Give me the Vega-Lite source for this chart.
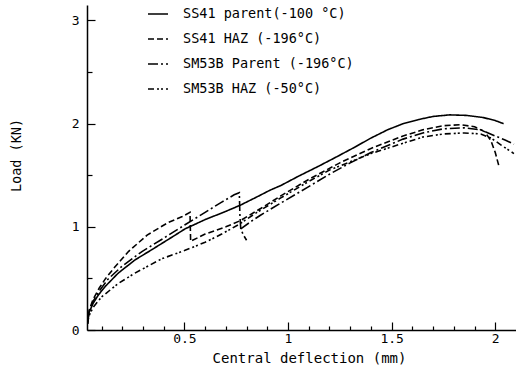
{
  "$schema": "https://vega.github.io/schema/vega-lite/v6.json",
  "width": 429,
  "height": 325,
  "autosize": {"type": "none"},
  "padding": {"left": 87, "top": 5, "right": 0, "bottom": 39},
  "background": "white",
  "config": {"view": {"stroke": null}, "font": "DejaVu Sans Mono"},
  "data": {"values": [
    {"series": "SS41 parent(-100 °C)", "seg": "A1", "i": 1, "x": 0.032, "y": 0.06},
    {"series": "SS41 parent(-100 °C)", "seg": "A1", "i": 2, "x": 0.04, "y": 0.17},
    {"series": "SS41 parent(-100 °C)", "seg": "A1", "i": 3, "x": 0.06, "y": 0.26},
    {"series": "SS41 parent(-100 °C)", "seg": "A1", "i": 4, "x": 0.085, "y": 0.34},
    {"series": "SS41 parent(-100 °C)", "seg": "A1", "i": 5, "x": 0.117, "y": 0.42},
    {"series": "SS41 parent(-100 °C)", "seg": "A1", "i": 6, "x": 0.18, "y": 0.55},
    {"series": "SS41 parent(-100 °C)", "seg": "A1", "i": 7, "x": 0.262, "y": 0.68},
    {"series": "SS41 parent(-100 °C)", "seg": "A1", "i": 8, "x": 0.344, "y": 0.78},
    {"series": "SS41 parent(-100 °C)", "seg": "A1", "i": 9, "x": 0.44, "y": 0.90},
    {"series": "SS41 parent(-100 °C)", "seg": "A1", "i": 10, "x": 0.503, "y": 0.98},
    {"series": "SS41 parent(-100 °C)", "seg": "A1", "i": 11, "x": 0.60, "y": 1.07},
    {"series": "SS41 parent(-100 °C)", "seg": "A1", "i": 12, "x": 0.70, "y": 1.15},
    {"series": "SS41 parent(-100 °C)", "seg": "A1", "i": 13, "x": 0.77, "y": 1.21},
    {"series": "SS41 parent(-100 °C)", "seg": "A1", "i": 14, "x": 0.85, "y": 1.29},
    {"series": "SS41 parent(-100 °C)", "seg": "A1", "i": 15, "x": 0.913, "y": 1.355},
    {"series": "SS41 parent(-100 °C)", "seg": "A1", "i": 16, "x": 0.965, "y": 1.40},
    {"series": "SS41 parent(-100 °C)", "seg": "A1", "i": 17, "x": 1.05, "y": 1.49},
    {"series": "SS41 parent(-100 °C)", "seg": "A1", "i": 18, "x": 1.15, "y": 1.59},
    {"series": "SS41 parent(-100 °C)", "seg": "A1", "i": 19, "x": 1.236, "y": 1.68},
    {"series": "SS41 parent(-100 °C)", "seg": "A1", "i": 20, "x": 1.32, "y": 1.77},
    {"series": "SS41 parent(-100 °C)", "seg": "A1", "i": 21, "x": 1.40, "y": 1.86},
    {"series": "SS41 parent(-100 °C)", "seg": "A1", "i": 22, "x": 1.48, "y": 1.94},
    {"series": "SS41 parent(-100 °C)", "seg": "A1", "i": 23, "x": 1.555, "y": 2.00},
    {"series": "SS41 parent(-100 °C)", "seg": "A1", "i": 24, "x": 1.63, "y": 2.04},
    {"series": "SS41 parent(-100 °C)", "seg": "A1", "i": 25, "x": 1.70, "y": 2.07},
    {"series": "SS41 parent(-100 °C)", "seg": "A1", "i": 26, "x": 1.78, "y": 2.085},
    {"series": "SS41 parent(-100 °C)", "seg": "A1", "i": 27, "x": 1.86, "y": 2.08},
    {"series": "SS41 parent(-100 °C)", "seg": "A1", "i": 28, "x": 1.94, "y": 2.06},
    {"series": "SS41 parent(-100 °C)", "seg": "A1", "i": 29, "x": 2.0, "y": 2.03},
    {"series": "SS41 parent(-100 °C)", "seg": "A1", "i": 30, "x": 2.04, "y": 2.0},

    {"series": "SS41 HAZ (-196°C)", "seg": "D1", "i": 1, "x": 0.032, "y": 0.06},
    {"series": "SS41 HAZ (-196°C)", "seg": "D1", "i": 2, "x": 0.04, "y": 0.19},
    {"series": "SS41 HAZ (-196°C)", "seg": "D1", "i": 3, "x": 0.06, "y": 0.30},
    {"series": "SS41 HAZ (-196°C)", "seg": "D1", "i": 4, "x": 0.09, "y": 0.41},
    {"series": "SS41 HAZ (-196°C)", "seg": "D1", "i": 5, "x": 0.12, "y": 0.50},
    {"series": "SS41 HAZ (-196°C)", "seg": "D1", "i": 6, "x": 0.16, "y": 0.60},
    {"series": "SS41 HAZ (-196°C)", "seg": "D1", "i": 7, "x": 0.23, "y": 0.76},
    {"series": "SS41 HAZ (-196°C)", "seg": "D1", "i": 8, "x": 0.32, "y": 0.92},
    {"series": "SS41 HAZ (-196°C)", "seg": "D1", "i": 9, "x": 0.42, "y": 1.04},
    {"series": "SS41 HAZ (-196°C)", "seg": "D1", "i": 10, "x": 0.49, "y": 1.10},
    {"series": "SS41 HAZ (-196°C)", "seg": "D1", "i": 11, "x": 0.527, "y": 1.14},
    {"series": "SS41 HAZ (-196°C)", "seg": "D1", "i": 12, "x": 0.53, "y": 0.86},
    {"series": "SS41 HAZ (-196°C)", "seg": "D1", "i": 13, "x": 0.60, "y": 0.93},
    {"series": "SS41 HAZ (-196°C)", "seg": "D1", "i": 14, "x": 0.70, "y": 1.0},
    {"series": "SS41 HAZ (-196°C)", "seg": "D1", "i": 15, "x": 0.77, "y": 1.06},
    {"series": "SS41 HAZ (-196°C)", "seg": "D1", "i": 16, "x": 0.87, "y": 1.18},
    {"series": "SS41 HAZ (-196°C)", "seg": "D1", "i": 17, "x": 0.965, "y": 1.30},
    {"series": "SS41 HAZ (-196°C)", "seg": "D1", "i": 18, "x": 1.1, "y": 1.46},
    {"series": "SS41 HAZ (-196°C)", "seg": "D1", "i": 19, "x": 1.25, "y": 1.62},
    {"series": "SS41 HAZ (-196°C)", "seg": "D1", "i": 20, "x": 1.4, "y": 1.76},
    {"series": "SS41 HAZ (-196°C)", "seg": "D1", "i": 21, "x": 1.555, "y": 1.88},
    {"series": "SS41 HAZ (-196°C)", "seg": "D1", "i": 22, "x": 1.65, "y": 1.94},
    {"series": "SS41 HAZ (-196°C)", "seg": "D1", "i": 23, "x": 1.75, "y": 1.98},
    {"series": "SS41 HAZ (-196°C)", "seg": "D1", "i": 24, "x": 1.83, "y": 1.99},
    {"series": "SS41 HAZ (-196°C)", "seg": "D1", "i": 25, "x": 1.9, "y": 1.97},
    {"series": "SS41 HAZ (-196°C)", "seg": "D1", "i": 26, "x": 1.95, "y": 1.92},
    {"series": "SS41 HAZ (-196°C)", "seg": "D1", "i": 27, "x": 1.98, "y": 1.83},
    {"series": "SS41 HAZ (-196°C)", "seg": "D1", "i": 28, "x": 2.0, "y": 1.72},
    {"series": "SS41 HAZ (-196°C)", "seg": "D1", "i": 29, "x": 2.02, "y": 1.57},

    {"series": "SM53B Parent (-196°C)", "seg": "B1", "i": 1, "x": 0.032, "y": 0.06},
    {"series": "SM53B Parent (-196°C)", "seg": "B1", "i": 2, "x": 0.04, "y": 0.18},
    {"series": "SM53B Parent (-196°C)", "seg": "B1", "i": 3, "x": 0.06, "y": 0.28},
    {"series": "SM53B Parent (-196°C)", "seg": "B1", "i": 4, "x": 0.09, "y": 0.38},
    {"series": "SM53B Parent (-196°C)", "seg": "B1", "i": 5, "x": 0.13, "y": 0.49},
    {"series": "SM53B Parent (-196°C)", "seg": "B1", "i": 6, "x": 0.20, "y": 0.62},
    {"series": "SM53B Parent (-196°C)", "seg": "B1", "i": 7, "x": 0.295, "y": 0.76},
    {"series": "SM53B Parent (-196°C)", "seg": "B1", "i": 8, "x": 0.392, "y": 0.88},
    {"series": "SM53B Parent (-196°C)", "seg": "B1", "i": 9, "x": 0.503, "y": 1.02},
    {"series": "SM53B Parent (-196°C)", "seg": "B1", "i": 10, "x": 0.60, "y": 1.14},
    {"series": "SM53B Parent (-196°C)", "seg": "B1", "i": 11, "x": 0.68, "y": 1.24},
    {"series": "SM53B Parent (-196°C)", "seg": "B1", "i": 12, "x": 0.74, "y": 1.31},
    {"series": "SM53B Parent (-196°C)", "seg": "B1", "i": 13, "x": 0.765, "y": 1.33},
    {"series": "SM53B Parent (-196°C)", "seg": "B1", "i": 14, "x": 0.768, "y": 1.10},
    {"series": "SM53B Parent (-196°C)", "seg": "B1", "i": 15, "x": 0.772, "y": 0.98},
    {"series": "SM53B Parent (-196°C)", "seg": "B1", "i": 16, "x": 0.785, "y": 0.92},
    {"series": "SM53B Parent (-196°C)", "seg": "B1", "i": 17, "x": 0.80, "y": 0.87},
    {"series": "SM53B Parent (-196°C)", "seg": "B2", "i": 1, "x": 0.772, "y": 0.98},
    {"series": "SM53B Parent (-196°C)", "seg": "B2", "i": 2, "x": 0.82, "y": 1.05},
    {"series": "SM53B Parent (-196°C)", "seg": "B2", "i": 3, "x": 0.865, "y": 1.11},
    {"series": "SM53B Parent (-196°C)", "seg": "B2", "i": 4, "x": 0.965, "y": 1.23},
    {"series": "SM53B Parent (-196°C)", "seg": "B2", "i": 5, "x": 1.1, "y": 1.39},
    {"series": "SM53B Parent (-196°C)", "seg": "B2", "i": 6, "x": 1.2, "y": 1.51},
    {"series": "SM53B Parent (-196°C)", "seg": "B2", "i": 7, "x": 1.3, "y": 1.62},
    {"series": "SM53B Parent (-196°C)", "seg": "B2", "i": 8, "x": 1.4, "y": 1.72},
    {"series": "SM53B Parent (-196°C)", "seg": "B2", "i": 9, "x": 1.555, "y": 1.85},
    {"series": "SM53B Parent (-196°C)", "seg": "B2", "i": 10, "x": 1.65, "y": 1.91},
    {"series": "SM53B Parent (-196°C)", "seg": "B2", "i": 11, "x": 1.75, "y": 1.95},
    {"series": "SM53B Parent (-196°C)", "seg": "B2", "i": 12, "x": 1.85, "y": 1.96},
    {"series": "SM53B Parent (-196°C)", "seg": "B2", "i": 13, "x": 1.93, "y": 1.94},
    {"series": "SM53B Parent (-196°C)", "seg": "B2", "i": 14, "x": 2.0, "y": 1.88},
    {"series": "SM53B Parent (-196°C)", "seg": "B2", "i": 15, "x": 2.05, "y": 1.84},
    {"series": "SM53B Parent (-196°C)", "seg": "B2", "i": 16, "x": 2.09, "y": 1.80},

    {"series": "SM53B HAZ (-50°C)", "seg": "C1", "i": 1, "x": 0.032, "y": 0.06},
    {"series": "SM53B HAZ (-50°C)", "seg": "C1", "i": 2, "x": 0.04, "y": 0.14},
    {"series": "SM53B HAZ (-50°C)", "seg": "C1", "i": 3, "x": 0.06, "y": 0.22},
    {"series": "SM53B HAZ (-50°C)", "seg": "C1", "i": 4, "x": 0.10, "y": 0.32},
    {"series": "SM53B HAZ (-50°C)", "seg": "C1", "i": 5, "x": 0.18, "y": 0.45},
    {"series": "SM53B HAZ (-50°C)", "seg": "C1", "i": 6, "x": 0.26, "y": 0.55},
    {"series": "SM53B HAZ (-50°C)", "seg": "C1", "i": 7, "x": 0.39, "y": 0.69},
    {"series": "SM53B HAZ (-50°C)", "seg": "C1", "i": 8, "x": 0.50, "y": 0.77},
    {"series": "SM53B HAZ (-50°C)", "seg": "C1", "i": 9, "x": 0.60, "y": 0.85},
    {"series": "SM53B HAZ (-50°C)", "seg": "C1", "i": 10, "x": 0.68, "y": 0.93},
    {"series": "SM53B HAZ (-50°C)", "seg": "C1", "i": 11, "x": 0.76, "y": 1.02},
    {"series": "SM53B HAZ (-50°C)", "seg": "C1", "i": 12, "x": 0.85, "y": 1.14},
    {"series": "SM53B HAZ (-50°C)", "seg": "C1", "i": 13, "x": 0.965, "y": 1.28},
    {"series": "SM53B HAZ (-50°C)", "seg": "C1", "i": 14, "x": 1.1, "y": 1.44},
    {"series": "SM53B HAZ (-50°C)", "seg": "C1", "i": 15, "x": 1.2, "y": 1.55},
    {"series": "SM53B HAZ (-50°C)", "seg": "C1", "i": 16, "x": 1.3, "y": 1.63},
    {"series": "SM53B HAZ (-50°C)", "seg": "C1", "i": 17, "x": 1.4, "y": 1.71},
    {"series": "SM53B HAZ (-50°C)", "seg": "C1", "i": 18, "x": 1.555, "y": 1.81},
    {"series": "SM53B HAZ (-50°C)", "seg": "C1", "i": 19, "x": 1.65, "y": 1.87},
    {"series": "SM53B HAZ (-50°C)", "seg": "C1", "i": 20, "x": 1.75, "y": 1.90},
    {"series": "SM53B HAZ (-50°C)", "seg": "C1", "i": 21, "x": 1.85, "y": 1.91},
    {"series": "SM53B HAZ (-50°C)", "seg": "C1", "i": 22, "x": 1.93, "y": 1.90},
    {"series": "SM53B HAZ (-50°C)", "seg": "C1", "i": 23, "x": 1.98, "y": 1.86},
    {"series": "SM53B HAZ (-50°C)", "seg": "C1", "i": 24, "x": 2.03, "y": 1.79},
    {"series": "SM53B HAZ (-50°C)", "seg": "C1", "i": 25, "x": 2.09, "y": 1.71}
  ]},
  "mark": {"type": "line", "strokeWidth": 1.6, "color": "black", "clip": true},
  "encoding": {
    "x": {
      "field": "x", "type": "quantitative",
      "scale": {"domain": [0.03, 2.1], "nice": false, "zero": false},
      "axis": {
        "title": "Central deflection (mm)",
        "titleFont": "DejaVu Sans Mono", "titleFontSize": 14, "titleFontWeight": "normal", "titleColor": "black",
        "titleX": 222, "titleY": 32, "titleBaseline": "alphabetic",
        "values": [0.1, 0.2, 0.3, 0.4, 0.5, 0.6, 0.7, 0.8, 0.9, 1.0, 1.1, 1.2, 1.3, 1.4, 1.5, 1.6, 1.7, 1.8, 1.9, 2.0],
        "labelExpr": "abs(datum.value*2-round(datum.value*2))<0.001 ? format(datum.value,'~g') : ''",
        "labelFont": "DejaVu Sans Mono", "labelFontSize": 13, "labelColor": "black", "labelPadding": 10,
        "grid": false, "domainColor": "black", "domainWidth": 1.5,
        "tickColor": "black", "tickWidth": 1.2,
        "tickSize": {"condition": {"test": "abs(datum.value*2-round(datum.value*2))<0.001", "value": -8}, "value": -4}
      }
    },
    "y": {
      "field": "y", "type": "quantitative",
      "scale": {"domain": [0, 3.15], "nice": false},
      "axis": {
        "title": "Load (KN)",
        "titleFont": "DejaVu Sans Mono", "titleFontSize": 13.5, "titleFontWeight": "normal", "titleColor": "black",
        "titleX": -71, "titleY": 150, "titleBaseline": "middle",
        "values": [0, 0.5, 1, 1.5, 2, 2.5, 3],
        "labelExpr": "datum.value % 1 == 0 ? format(datum.value,'d') : ''",
        "labelFont": "DejaVu Sans Mono", "labelFontSize": 13, "labelColor": "black", "labelPadding": 16,
        "grid": false, "domainColor": "black", "domainWidth": 1.5,
        "tickColor": "black", "tickWidth": 1.2,
        "tickSize": {"condition": {"test": "datum.value % 1 == 0", "value": -8}, "value": -5}
      }
    },
    "strokeDash": {
      "field": "series", "type": "nominal",
      "scale": {
        "domain": ["SS41 parent(-100 °C)", "SS41 HAZ (-196°C)", "SM53B Parent (-196°C)", "SM53B HAZ (-50°C)"],
        "range": [[1, 0], [6, 3], [10, 3, 2, 3], [6, 3, 2, 2, 2, 3]]
      },
      "legend": {
        "orient": "none", "legendX": 60, "legendY": -2,
        "title": null, "symbolType": "stroke", "symbolSize": 400,
        "symbolStrokeWidth": 1.6, "symbolStrokeColor": "black",
        "labelFont": "DejaVu Sans Mono", "labelFontSize": 13.5, "labelColor": "black",
        "labelOffset": 14, "labelLimit": 0, "rowPadding": 7, "padding": 0
      }
    },
    "detail": {"field": "seg", "type": "nominal"},
    "order": {"field": "i", "type": "quantitative"}
  }
}
